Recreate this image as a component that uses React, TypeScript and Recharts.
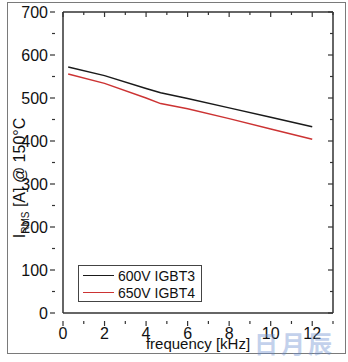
import React from "react";
import { LineChart, Line, XAxis, YAxis, Label } from "recharts";

const frequency = [0.25, 2, 4, 4.7, 6, 8, 10, 12];
const igbt3 = [572, 552, 522, 512, 499, 477, 455, 433];
const igbt4 = [556, 534, 500, 487, 475, 452, 428, 404];
const yTicks = [0, 50, 100, 150, 200, 250, 300, 350, 400, 450, 500, 550, 600, 650, 700];
const xTicks = [0, 1, 2, 3, 4, 5, 6, 7, 8, 9, 10, 11, 12, 13];

const seriesNames = ["600V IGBT3", "650V IGBT4"];
const seriesColors = ["#1a1a1a", "#cc3333"];

const data = frequency.map((f, i) => ({ f, igbt3: igbt3[i], igbt4: igbt4[i] }));

const AXIS = "#333";
const FONT = "'Liberation Sans', Arial, sans-serif";

function LeftTick(props: any) {
  const { x, y, payload } = props;
  const major = payload.value % 100 === 0;
  return (
    <g>
      <line x1={x} x2={x - (major ? 5 : 3)} y1={y} y2={y} stroke={AXIS} strokeWidth={1.2} />
      {major && (
        <text x={x - 7} y={y} dy={6} textAnchor="end" fontSize={16} fontFamily={FONT} fill="#111">
          {payload.value}
        </text>
      )}
    </g>
  );
}

// mirrored ticks on the right frame edge, pointing into the plot
function RightTick(props: any) {
  const { y, payload, axisX } = props;
  const major = payload.value % 100 === 0;
  return <line x1={axisX} x2={axisX - (major ? 5 : 3)} y1={y} y2={y} stroke={AXIS} strokeWidth={1.2} />;
}

function BottomTick(props: any) {
  const { x, y, payload } = props;
  const major = payload.value % 2 === 0 && payload.value <= 12;
  return (
    <g>
      <line x1={x} x2={x} y1={y} y2={y + (major ? 5 : 3)} stroke={AXIS} strokeWidth={1.2} />
      {major && (
        <text x={x} y={y + 18} textAnchor="middle" fontSize={16} fontFamily={FONT} fill="#111">
          {payload.value}
        </text>
      )}
    </g>
  );
}

function TopTick(props: any) {
  const { x, payload, axisY } = props;
  const major = payload.value % 2 === 0;
  return <line x1={x} x2={x} y1={axisY} y2={axisY + (major ? 5 : 3)} stroke={AXIS} strokeWidth={1.2} />;
}

function YTitle() {
  return (
    <text
      transform="translate(25,178) rotate(-90)"
      textAnchor="middle"
      fontFamily={FONT}
      fontSize={16}
      fill="#111"
    >
      <tspan>I</tspan>
      <tspan fontSize={10} dy={4}>RMS</tspan>
      <tspan dy={-4}> [A] @ 150°C</tspan>
    </text>
  );
}

function LegendBox() {
  return (
    <div
      style={{
        position: "absolute",
        left: 78,
        top: 265,
        width: 122,
        height: 34,
        border: "1px solid #444",
        background: "#fff",
        fontFamily: FONT,
        fontSize: 14,
        color: "#111",
        whiteSpace: "nowrap",
        paddingTop: 1,
      }}
    >
      {seriesNames.map((n, i) => (
        <div key={n} style={{ display: "flex", alignItems: "center", height: 17, paddingLeft: 4 }}>
          <div style={{ width: 31, height: 0, borderTop: `1.5px solid ${seriesColors[i]}`, marginRight: 4 }} />
          <span>{n}</span>
        </div>
      ))}
    </div>
  );
}

const PLOT_TOP = 12;
const PLOT_RIGHT = 333;

export default function App() {
  return (
    <div style={{ position: "absolute", left: 0, top: 0, width: 348, height: 362, background: "#fff" }}>
      <div
        style={{
          position: "absolute",
          left: 7,
          top: 2,
          width: 337,
          height: 350,
          border: "1.5px solid #7a7a7a",
        }}
      />
      <div style={{ position: "absolute", left: 0, top: 0 }}>
        <LineChart width={348} height={362} data={data} margin={{ top: 2, right: 5, bottom: 19, left: 23 }}>
          <XAxis
            dataKey="f"
            type="number"
            domain={[0, 13]}
            ticks={xTicks}
            interval={0}
            height={30}
            axisLine={{ stroke: AXIS, strokeWidth: 1.5 }}
            tickLine={false}
            tick={<BottomTick />}
          >
            <Label
              content={() => (
                <text x={198} y={349} textAnchor="middle" fontFamily={FONT} fontSize={15} fill="#111">
                  frequency [kHz]
                </text>
              )}
            />
          </XAxis>
          <XAxis
            xAxisId="top"
            orientation="top"
            dataKey="f"
            type="number"
            domain={[0, 13]}
            ticks={xTicks}
            interval={0}
            height={10}
            axisLine={{ stroke: AXIS, strokeWidth: 1.5 }}
            tickLine={false}
            tick={<TopTick axisY={PLOT_TOP} />}
          />
          <YAxis
            type="number"
            domain={[0, 700]}
            ticks={yTicks}
            interval={0}
            width={40}
            axisLine={{ stroke: AXIS, strokeWidth: 1.5 }}
            tickLine={false}
            tick={<LeftTick />}
          >
            <Label content={<YTitle />} />
          </YAxis>
          <YAxis
            yAxisId="right"
            orientation="right"
            type="number"
            domain={[0, 700]}
            ticks={yTicks}
            interval={0}
            width={10}
            axisLine={{ stroke: AXIS, strokeWidth: 1.5 }}
            tickLine={false}
            tick={<RightTick axisX={PLOT_RIGHT} />}
          />
          <Line
            dataKey="igbt3"
            name={seriesNames[0]}
            stroke={seriesColors[0]}
            strokeWidth={1.5}
            dot={false}
            isAnimationActive={false}
          />
          <Line
            xAxisId="top"
            yAxisId="right"
            dataKey="igbt4"
            name={seriesNames[1]}
            stroke={seriesColors[1]}
            strokeWidth={1.5}
            dot={false}
            isAnimationActive={false}
          />
        </LineChart>
      </div>
      <LegendBox />
      <div
        style={{
          position: "absolute",
          left: 254,
          top: 325,
          fontFamily: "'Noto Sans CJK SC', sans-serif",
          fontSize: 24,
          fontWeight: 700,
          color: "#6a8fd0",
          opacity: 0.4,
          letterSpacing: 3,
        }}
      >
        日月辰
      </div>
    </div>
  );
}
